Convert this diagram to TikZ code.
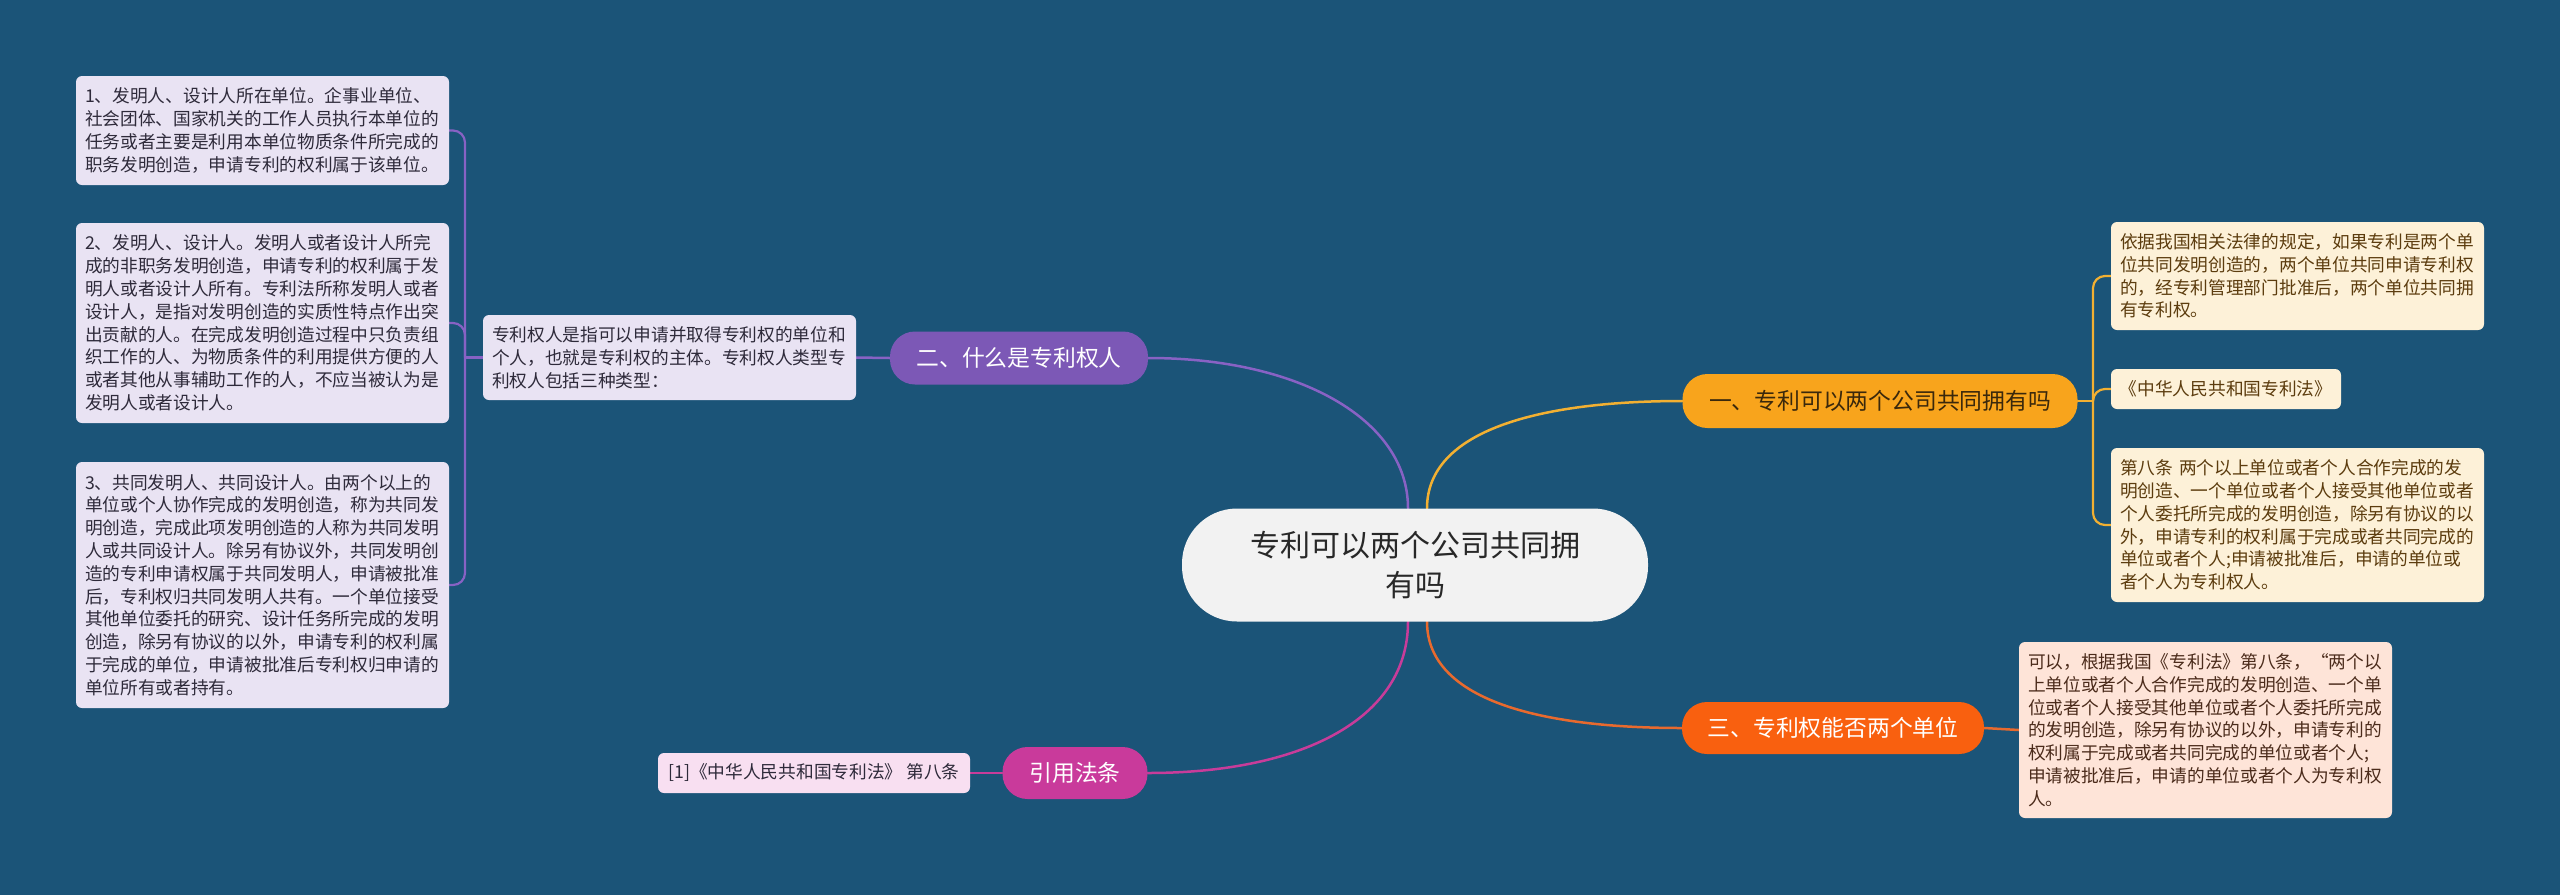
\documentclass[tikz,border=0pt]{standalone}
\usepackage{fontspec}
\setmainfont{Noto Sans CJK SC}
\pgfdeclarelayer{bgfill}
\pgfdeclarelayer{lines}
\pgfsetlayers{bgfill,lines,main}
\definecolor{bgc}{RGB}{27,84,120}
\definecolor{centfill}{RGB}{242,242,242}
\definecolor{centtext}{RGB}{40,40,40}
\definecolor{purpc}{RGB}{124,88,182}
\definecolor{purpl}{RGB}{136,98,196}
\definecolor{lavfill}{RGB}{233,227,243}
\definecolor{lavtext}{RGB}{46,42,58}
\definecolor{amberc}{RGB}{248,164,28}
\definecolor{amberl}{RGB}{242,176,50}
\definecolor{ambertext}{RGB}{58,40,12}
\definecolor{creamfill}{RGB}{253,241,216}
\definecolor{creamtext}{RGB}{92,60,14}
\definecolor{orngc}{RGB}{249,96,15}
\definecolor{orngl}{RGB}{232,106,46}
\definecolor{peachfill}{RGB}{254,228,216}
\definecolor{peachtext}{RGB}{75,43,27}
\definecolor{pinkc}{RGB}{201,58,155}
\definecolor{pinkl}{RGB}{200,60,154}
\definecolor{pinkfill}{RGB}{248,223,241}
\begin{document}
\begin{tikzpicture}[x=1pt,y=-1pt,
  central/.style={fill=centfill, text=centtext, rounded corners=55, minimum width=466, minimum height=113, inner sep=0, align=center, font=\fontsize{30}{40}\selectfont},
  branch/.style={rounded corners=25, inner sep=0, align=center, font=\fontsize{22.8}{28}\selectfont},
  leaf/.style={rounded corners=6, inner xsep=9, inner ysep=0, align=left, font=\fontsize{17.7}{22.8}\selectfont},
  leafone/.style={rounded corners=6, inner sep=0, align=center, font=\fontsize{17.7}{22.8}\selectfont},
  conn/.style={line width=2.5, line cap=round},
  brk/.style={line width=2.2, rounded corners=12}]
\begin{pgfonlayer}{bgfill}
\fill[bgc] (0,0) rectangle (2560,895);
\end{pgfonlayer}
\useasboundingbox (0,0) rectangle (2560,895);

% central
\node[central] (c) at (1415,565) {专利可以两个公司共同拥\\有吗};

% branches
\node[branch, fill=purpc, text=white, minimum width=258, minimum height=53] (p) at (1019,358) {二、什么是专利权人};
\node[branch, fill=amberc, text=ambertext, minimum width=395, minimum height=54] (o1) at (1880,401) {一、专利可以两个公司共同拥有吗};
\node[branch, fill=orngc, text=white, minimum width=302, minimum height=52] (o3) at (1833,728) {三、专利权能否两个单位};
\node[branch, fill=pinkc, text=white, minimum width=145, minimum height=52] (k) at (1075,773) {引用法条};

% left leaves
\node[leaf, fill=lavfill, text=lavtext, text width=355, minimum height=85] (info) at (669.5,357.5) {专利权人是指可以申请并取得专利权的单位和\\个人，也就是专利权的主体。专利权人类型专\\利权人包括三种类型：};
\node[leaf, fill=lavfill, text=lavtext, text width=355, minimum height=109] (b1) at (262.5,130.5) {1、发明人、设计人所在单位。企事业单位、\\社会团体、国家机关的工作人员执行本单位的\\任务或者主要是利用本单位物质条件所完成的\\职务发明创造，申请专利的权利属于该单位。};
\node[leaf, fill=lavfill, text=lavtext, text width=355, minimum height=200] (b2) at (262.5,323) {2、发明人、设计人。发明人或者设计人所完\\成的非职务发明创造，申请专利的权利属于发\\明人或者设计人所有。专利法所称发明人或者\\设计人，是指对发明创造的实质性特点作出突\\出贡献的人。在完成发明创造过程中只负责组\\织工作的人、为物质条件的利用提供方便的人\\或者其他从事辅助工作的人，不应当被认为是\\发明人或者设计人。};
\node[leaf, fill=lavfill, text=lavtext, text width=355, minimum height=246] (b3) at (262.5,585) {3、共同发明人、共同设计人。由两个以上的\\单位或个人协作完成的发明创造，称为共同发\\明创造，完成此项发明创造的人称为共同发明\\人或共同设计人。除另有协议外，共同发明创\\造的专利申请权属于共同发明人，申请被批准\\后，专利权归共同发明人共有。一个单位接受\\其他单位委托的研究、设计任务所完成的发明\\创造，除另有协议的以外，申请专利的权利属\\于完成的单位，申请被批准后专利权归申请的\\单位所有或者持有。};

% right leaves
\node[leaf, fill=creamfill, text=creamtext, text width=355, minimum height=108] (r1) at (2297.5,276) {依据我国相关法律的规定，如果专利是两个单\\位共同发明创造的，两个单位共同申请专利权\\的，经专利管理部门批准后，两个单位共同拥\\有专利权。};
\node[leafone, fill=creamfill, text=creamtext, minimum width=230, minimum height=40] (r2) at (2226,389) {《中华人民共和国专利法》};
\node[leaf, fill=creamfill, text=creamtext, text width=355, minimum height=154] (r3) at (2297.5,525) {第八条 两个以上单位或者个人合作完成的发\\明创造、一个单位或者个人接受其他单位或者\\个人委托所完成的发明创造，除另有协议的以\\外，申请专利的权利属于完成或者共同完成的\\单位或者个人;申请被批准后，申请的单位或\\者个人为专利权人。};
\node[leaf, fill=peachfill, text=peachtext, text width=355, minimum height=176] (r4) at (2205.5,730) {可以，根据我国《专利法》第八条，“两个以\\上单位或者个人合作完成的发明创造、一个单\\位或者个人接受其他单位或者个人委托所完成\\的发明创造，除另有协议的以外，申请专利的\\权利属于完成或者共同完成的单位或者个人;\\申请被批准后，申请的单位或者个人为专利权\\人。};
\node[leafone, fill=pinkfill, text=lavtext, minimum width=312, minimum height=40] (cit) at (814,773) {[1]《中华人民共和国专利法》 第八条};

\coordinate (lj) at (465,357.5);
\coordinate (rj) at (2093,401);

\begin{pgfonlayer}{lines}
\draw[conn, purpl] ([xshift=-7]c.north) .. controls (1408,420) and (1300,358) .. (p.east);
\draw[conn, amberl] ([xshift=12]c.north) .. controls (1427,430) and (1540,401) .. (o1.west);
\draw[conn, orngl] ([xshift=12]c.south) .. controls (1427,700) and (1540,728) .. (o3.west);
\draw[conn, pinkl] ([xshift=-7]c.south) .. controls (1408,720) and (1300,773) .. (k.east);
\draw[conn, purpl] (p.west) -- (info.east);
\draw[conn, pinkl] (k.west) -- (cit.east);
\draw[conn, orngl] (o3.east) -- (r4.west);
\draw[conn, amberl] (o1.east) -- (rj);
\draw[brk, purpl] (info.west) -- (lj);
\draw[brk, purpl] (b1.east) -| (lj) |- (b3.east);
\draw[brk, purpl] (b2.east) -| (lj);
\draw[brk, amberl] (r1.west) -| (rj) |- (r3.west);
\draw[brk, amberl] (r2.west) -| (rj);
\end{pgfonlayer}
\end{tikzpicture}
\end{document}
